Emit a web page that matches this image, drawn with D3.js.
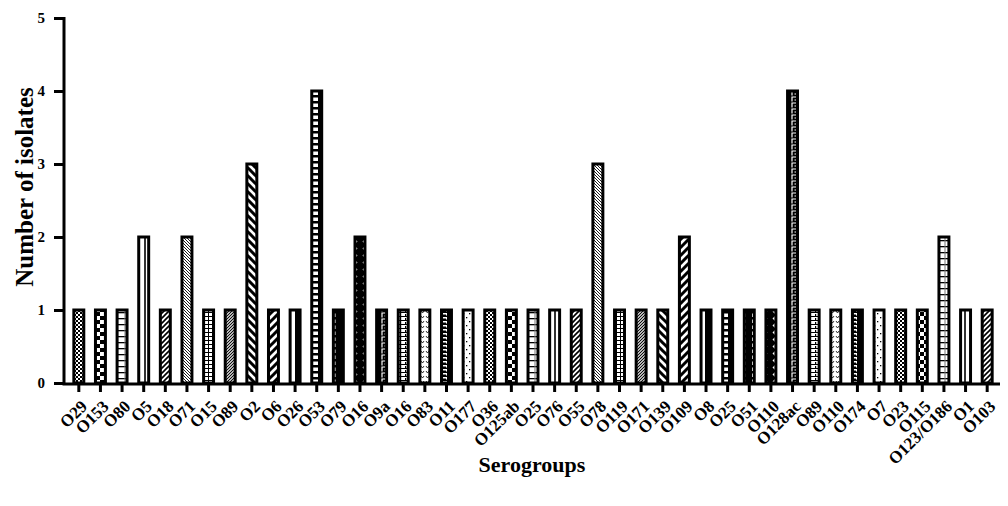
<!DOCTYPE html>
<html>
<head>
<meta charset="utf-8">
<script src="https://cdn.jsdelivr.net/npm/d3@7"></script>
<style>
  body { margin: 0; background: #fff; }
  svg { display: block; }
  text { font-family: "Liberation Serif", "Times New Roman", serif; font-weight: bold; fill: #000; }
</style>
</head>
<body>
<svg id="chart" width="1008" height="506"></svg>
<script>
// serogroups, in plot order
var serogroups = ["O29", "O153", "O80", "O5", "O18", "O71", "O15", "O89", "O2", "O6",
    "O26", "O53", "O79", "O16", "O9a", "O16", "O83", "O11", "O177", "O36",
    "O125ab", "O25", "O76", "O55", "O78", "O119", "O171", "O139", "O109", "O8",
    "O25", "O51", "O110", "O128ac", "O89", "O110", "O174", "O7", "O23", "O115",
    "O123/O186", "O1", "O103"];

var isolates = [1, 1, 1, 2, 1, 2, 1, 1, 3, 1,
    1, 4, 1, 2, 1, 1, 1, 1, 1, 1,
    1, 1, 1, 1, 3, 1, 1, 1, 2, 1,
    1, 1, 1, 4, 1, 1, 1, 1, 1, 1,
    2, 1, 1];

var yTicks = [0, 1, 2, 3, 4, 5];

(function () {
    var svg = d3.select("#chart");
    var defs = svg.append("defs");

    // fill patterns, the chart cycles through 19 of them
    function rect(p, x, y, w, h, c) {
        return p.append("rect").attr("x", x).attr("y", y).attr("width", w).attr("height", h).attr("fill", c || "#000");
    }
    function line(p, d, sw, c) {
        return p.append("path").attr("d", d).attr("stroke", c || "#000").attr("stroke-width", sw).attr("fill", "none");
    }

    var patterns = [
        [4, 4, function (p) { rect(p, 0, 0, 4, 4, "#fff"); rect(p, 0, 0, 2, 2); rect(p, 2, 2, 2, 2); }],          // fine checker
        [8, 8, function (p) { rect(p, 0, 0, 8, 8, "#fff"); rect(p, 0, 0, 4, 4); rect(p, 4, 4, 4, 4); }],          // big checker
        [10, 6, function (p) { rect(p, 0, 0, 10, 6, "#fff"); rect(p, 0, 0, 10, 1.3); rect(p, 4.5, 0, 1, 6, "#777"); }], // ladder thin
        [10, 6, function (p) { rect(p, 0, 0, 10, 6, "#fff"); rect(p, 4.2, 0, 1.6, 6); }],                        // single vertical line
        [5, 5, function (p) { rect(p, 0, 0, 5, 5, "#fff"); line(p, "M-1,6 L6,-1 M-1,1 L1,-1 M4,6 L6,4", 1.6); }],   // diag /
        [3, 3, function (p) { rect(p, 0, 0, 3, 3, "#fff"); line(p, "M-1,-1 L4,4 M2,-1 L4,1 M-1,2 L1,4", 0.9); }],  // fine diag \
        [4, 4, function (p) { rect(p, 0, 0, 4, 4, "#fff"); rect(p, 0, 0, 4, 1); rect(p, 0, 0, 1, 4); }],          // grid
        [3, 3, function (p) { rect(p, 0, 0, 3, 3, "#fff"); line(p, "M-1,4 L4,-1 M-1,1 L1,-1 M2,4 L4,2", 1.1); }],  // fine diag /
        [8, 8, function (p) { rect(p, 0, 0, 8, 8, "#fff"); line(p, "M-2,-2 L10,10 M6,-2 L10,2 M-2,6 L2,10", 3); }],   // thick diag \
        [8, 8, function (p) { rect(p, 0, 0, 8, 8, "#fff"); line(p, "M-2,10 L10,-2 M-2,2 L2,-2 M6,10 L10,6", 3); }],   // thick diag /
        [10, 6, function (p) { rect(p, 0, 0, 5, 6, "#fff"); rect(p, 5, 0, 5, 6); }],                            // half black
        [10, 6, function (p) { rect(p, 0, 0, 10, 6); rect(p, 2, 1.5, 6, 3.5, "#fff"); }],                        // white squares
        [10, 6, function (p) { rect(p, 0, 0, 10, 6); rect(p, 2, 1.5, 3.5, 3.5, "#fff"); }],                      // small white squares
        [10, 7, function (p) { rect(p, 0, 0, 10, 7); p.append("path").attr("d", "M5,1 L7.5,3.5 L5,6 L2.5,3.5 Z").attr("fill", "#fff"); }], // diamonds
        [10, 6, function (p) { rect(p, 0, 0, 10, 6); line(p, "M2,5.5 L2,1 L7,1 L7,4 L4.5,4", 1.2, "#fff"); }],     // meander
        [10, 4, function (p) { rect(p, 0, 0, 10, 4, "#fff"); rect(p, 0, 0, 10, 1); rect(p, 0, 0, 1.2, 4); rect(p, 5, 2, 1.2, 2); }], // brick
        [5, 5, function (p) { rect(p, 0, 0, 5, 5, "#fff"); line(p, "M1,1 L2.5,3 L4,1", 0.8); }],                 // light v marks
        [10, 4, function (p) { rect(p, 0, 0, 10, 4); rect(p, 2, 1, 4, 1.5, "#fff"); rect(p, 6, 1, 1, 2.5, "#fff"); }], // dashes
        [6, 8, function (p) { rect(p, 0, 0, 6, 8, "#fff"); rect(p, 1, 1, 1.3, 1.3); rect(p, 4, 5, 1.3, 1.3); }]   // sparse dots
    ];
    patterns.forEach(function (d, i) {
        var p = defs.append("pattern")
            .attr("id", "p" + i)
            .attr("patternUnits", "userSpaceOnUse")
            .attr("width", d[0]).attr("height", d[1]);
        d[2](p);
    });

    var x = d3.scaleBand()
        .domain(d3.range(serogroups.length))
        .range([68, 998])
        .paddingInner(0.54)
        .paddingOuter(0.27);

    var y = d3.scaleLinear()
        .domain([0, 5])
        .range([383, 18]);

    // bars
    svg.append("g").selectAll("rect")
        .data(isolates)
        .enter().append("rect")
        .attr("x", function (d, i) { return x(i); })
        .attr("y", function (d) { return y(d); })
        .attr("width", x.bandwidth())
        .attr("height", function (d) { return y(0) - y(d); })
        .attr("fill", function (d, i) { return "url(#p" + (i % 19) + ")"; })
        .attr("stroke", "#000")
        .attr("stroke-width", 3);

    // y axis
    var yAxis = svg.append("g")
        .attr("transform", "translate(64,0)")
        .call(d3.axisLeft(y).tickValues(yTicks).tickSize(10).tickPadding(9).tickFormat(d3.format("d")));
    yAxis.select(".domain").attr("stroke-width", 3).attr("d", "M0,17V384");
    yAxis.selectAll(".tick line").attr("stroke-width", 3);
    yAxis.selectAll(".tick text").style("font-size", "15px").style("font-family", "Liberation Serif").style("font-weight", "bold");

    // x axis
    var xAxis = svg.append("g")
        .attr("transform", "translate(0,384)")
        .call(d3.axisBottom(x).tickSize(8).tickFormat(""));
    xAxis.select(".domain").attr("stroke-width", 3).attr("d", "M62.5,0H1000");
    xAxis.selectAll(".tick line").attr("stroke-width", 3).attr("y1", 1);

    svg.append("g").selectAll("text")
        .data(serogroups)
        .enter().append("text")
        .attr("transform", function (d, i) {
            return "translate(" + (x(i) + x.bandwidth() / 2 + 1) + ",399) rotate(-45)";
        })
        .attr("text-anchor", "end")
        .attr("dy", "0.7em")
        .style("font-size", "17px")
        .text(function (d) { return d; });

    svg.append("text")
        .attr("transform", "translate(33,187) rotate(-90)")
        .attr("text-anchor", "middle")
        .style("font-size", "25px")
        .text("Number of isolates");

    svg.append("text")
        .attr("x", 532)
        .attr("y", 472)
        .attr("text-anchor", "middle")
        .style("font-size", "22px")
        .text("Serogroups");
})();
</script>
</body>
</html>
